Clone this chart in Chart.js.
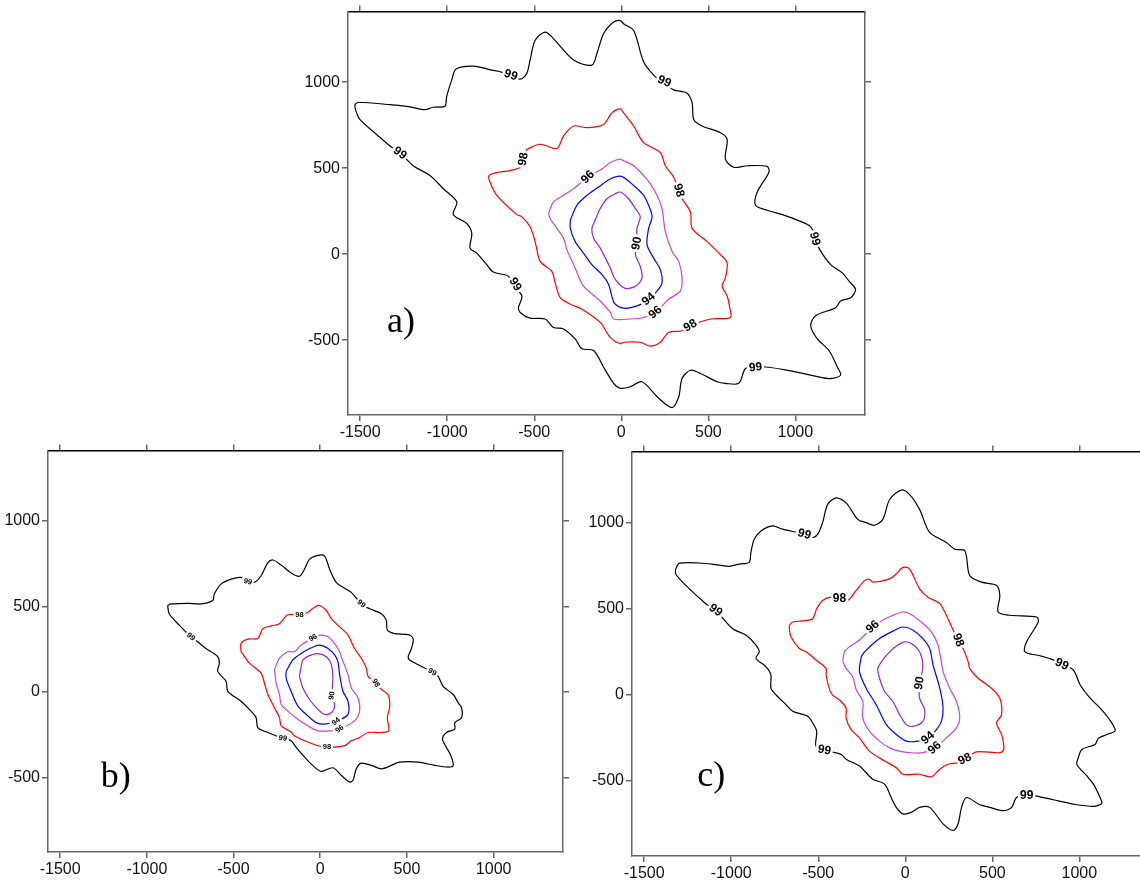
<!DOCTYPE html>
<html>
<head>
<meta charset="utf-8">
<script src="https://cdn.jsdelivr.net/npm/chart.js@4"></script>
<style>
  body { margin: 0; background: #fff; overflow: hidden; width: 1140px; height: 881px; position: relative; }
  canvas { position: absolute; }
</style>
</head>
<body>
<canvas id="chartA" width="575" height="441" style="left:300px;top:0px"></canvas>
<canvas id="chartB" width="573" height="439" style="left:0px;top:439px"></canvas>
<canvas id="chartC" width="575" height="442" style="left:584px;top:440px"></canvas>
<script>
// axis ticks
const xTicks = [-1500, -1000, -500, 0, 500, 1000];
const yTicks = [-500, 0, 500, 1000];

// contour levels and colours
const levels = ["99", "98", "96", "94", "90"];
const levelColors = ["#000000", "#ff0000", "#cc44cc", "#0000ff", "#9922cc"];

// panel a)
const a99 = [[-1531,869],[-1512,883],[-1329,869],[-1214,856],[-1128,840],[-1080,854],[-1013,860],[-1003,917],[-974,1013],[-949,1076],[-850,1093],[-744,1070],[-685,1057],[-581,1017],[-543,1051],[-524,1128],[-495,1243],[-437,1291],[-390,1253],[-274,1128],[-169,1099],[-140,1166],[-102,1281],[-44,1349],[-6,1358],[13,1339],[71,1300],[128,1119],[186,1041],[242,994],[301,955],[378,936],[407,879],[416,783],[464,745],[570,706],[608,667],[598,552],[646,505],[723,514],[838,510],[848,476],[781,361],[771,284],[838,255],[934,227],[1011,198],[1088,159],[1116,90],[1135,35],[1203,-61],[1270,-109],[1308,-157],[1346,-205],[1318,-253],[1260,-272],[1231,-311],[1116,-358],[1088,-416],[1126,-493],[1193,-560],[1241,-656],[1260,-704],[1193,-723],[1049,-694],[934,-671],[829,-656],[771,-658],[713,-665],[675,-751],[598,-751],[551,-742],[455,-694],[397,-675],[349,-723],[330,-829],[292,-892],[215,-838],[119,-742],[52,-771],[-6,-780],[-44,-751],[-102,-656],[-159,-560],[-226,-550],[-265,-493],[-332,-435],[-390,-426],[-437,-377],[-524,-372],[-581,-339],[-591,-311],[-571,-243],[-627,-174],[-648,-128],[-735,-104],[-773,-61],[-830,6],[-869,35],[-859,121],[-888,178],[-965,231],[-945,303],[-1022,380],[-1099,457],[-1195,514],[-1272,591],[-1329,629],[-1406,696],[-1502,783],[-1527,840],[-1531,869]];
const a98 = [[-543,610],[-466,639],[-370,614],[-332,687],[-274,745],[-197,735],[-102,754],[-54,821],[-6,844],[13,821],[71,745],[128,648],[224,591],[253,514],[301,447],[328,372],[349,322],[397,246],[407,150],[493,73],[570,-3],[608,-52],[598,-138],[579,-186],[608,-243],[623,-311],[627,-368],[512,-377],[397,-416],[349,-445],[272,-455],[224,-512],[167,-535],[109,-512],[13,-512],[-6,-521],[-63,-485],[-121,-397],[-226,-320],[-293,-291],[-351,-253],[-380,-167],[-399,-100],[-466,-42],[-495,73],[-524,159],[-571,217],[-600,230],[-715,342],[-754,418],[-760,457],[-706,476],[-639,486],[-581,505],[-562,552],[-543,610]];
const a96 = [[-418,236],[-390,303],[-332,342],[-274,380],[-192,447],[-111,495],[-63,533],[-6,552],[13,543],[71,514],[128,457],[167,409],[205,342],[234,265],[253,131],[292,16],[330,-42],[349,-138],[339,-215],[272,-262],[196,-339],[128,-368],[52,-377],[-44,-377],[-63,-339],[-121,-272],[-217,-186],[-265,-81],[-312,25],[-332,92],[-370,150],[-409,207],[-418,236]];
const a94 = [[-293,198],[-255,284],[-197,342],[-131,390],[-63,437],[0,452],[71,399],[128,342],[157,284],[177,217],[157,150],[148,54],[186,-23],[224,-90],[234,-167],[205,-215],[157,-262],[90,-301],[13,-314],[-40,-285],[-73,-176],[-111,-119],[-169,-61],[-217,6],[-265,73],[-293,150],[-293,198]];
const a90 = [[-150,198],[-121,265],[-82,322],[-35,351],[-6,361],[42,322],[81,265],[109,217],[90,150],[90,63],[81,-3],[109,-71],[119,-138],[81,-186],[23,-199],[-35,-147],[-63,-81],[-121,35],[-159,92],[-169,150],[-150,198]];

// panel b)
const b99 = [[-880,505],[-861,514],[-765,518],[-688,514],[-620,534],[-611,572],[-572,630],[-514,659],[-457,669],[-418,644],[-380,640],[-341,679],[-302,755],[-273,771],[-225,741],[-168,695],[-120,676],[-91,717],[-62,775],[-13,798],[25,794],[54,717],[92,640],[131,611],[179,582],[237,514],[285,486],[353,457],[381,418],[387,361],[429,341],[507,335],[536,312],[526,254],[507,206],[516,187],[584,149],[646,116],[680,91],[709,33],[767,-15],[796,-64],[815,-92],[815,-150],[776,-179],[776,-217],[728,-237],[705,-275],[728,-324],[753,-372],[767,-429],[738,-439],[661,-429],[565,-410],[458,-410],[410,-429],[353,-449],[295,-429],[237,-416],[208,-449],[189,-516],[169,-526],[121,-487],[73,-443],[6,-464],[-33,-439],[-81,-391],[-139,-324],[-168,-285],[-216,-271],[-302,-237],[-360,-208],[-370,-150],[-409,-102],[-457,-54],[-533,4],[-543,62],[-591,120],[-582,168],[-591,206],[-659,254],[-707,293],[-746,322],[-813,390],[-871,457],[-880,505]];
const b98 = [[-457,235],[-457,283],[-418,309],[-360,312],[-331,370],[-283,386],[-235,399],[-187,451],[-120,451],[-71,466],[-33,495],[-4,505],[35,476],[64,428],[112,380],[160,332],[198,254],[237,197],[266,139],[276,91],[320,52],[353,14],[391,-15],[401,-83],[387,-150],[395,-227],[353,-237],[276,-237],[227,-266],[179,-285],[140,-314],[39,-324],[-13,-314],[-91,-285],[-149,-256],[-168,-234],[-225,-198],[-235,-150],[-264,-92],[-302,-15],[-322,52],[-341,110],[-409,168],[-447,222],[-457,235]];
const b96 = [[-264,131],[-235,197],[-187,235],[-149,235],[-110,274],[-42,316],[-4,332],[45,322],[83,283],[112,235],[121,206],[160,101],[179,23],[218,-35],[227,-112],[198,-169],[112,-217],[64,-227],[-13,-227],[-71,-198],[-129,-160],[-187,-112],[-225,-73],[-235,-15],[-254,52],[-264,131]];
const b94 = [[-197,120],[-158,187],[-110,225],[-52,258],[-4,274],[45,254],[83,216],[102,177],[112,101],[131,4],[160,-54],[160,-131],[92,-173],[25,-188],[-23,-179],[-71,-140],[-129,-83],[-168,4],[-197,81],[-197,120]];
const b90 = [[-120,91],[-110,149],[-100,187],[-62,212],[-13,224],[35,206],[64,160],[73,81],[68,-21],[83,-83],[64,-121],[25,-131],[-13,-102],[-62,-44],[-100,23],[-120,91]];

// panel c)
const c99 = [[-1319,729],[-1300,762],[-1185,764],[-1070,752],[-1012,745],[-954,758],[-897,768],[-887,825],[-868,902],[-829,950],[-763,979],[-705,960],[-580,931],[-532,912],[-503,931],[-475,998],[-446,1104],[-397,1142],[-340,1113],[-273,1017],[-225,998],[-177,983],[-129,1017],[-90,1132],[-23,1187],[25,1161],[82,1075],[140,941],[236,883],[284,844],[342,835],[370,691],[438,653],[524,634],[543,576],[533,480],[601,461],[755,451],[764,422],[697,307],[687,249],[774,226],[850,202],[899,176],[965,144],[1004,58],[1062,-20],[1119,-77],[1167,-135],[1206,-207],[1158,-230],[1109,-253],[1090,-288],[1014,-317],[994,-365],[985,-403],[1043,-471],[1081,-518],[1119,-596],[1129,-630],[1081,-647],[965,-634],[850,-609],[745,-586],[697,-586],[639,-596],[611,-653],[562,-672],[486,-653],[428,-638],[351,-596],[323,-653],[303,-749],[274,-787],[217,-749],[140,-653],[82,-653],[35,-682],[-14,-691],[-52,-653],[-81,-596],[-119,-518],[-187,-490],[-234,-442],[-263,-413],[-340,-374],[-369,-346],[-465,-321],[-513,-298],[-509,-211],[-532,-164],[-561,-125],[-647,-96],[-685,-58],[-743,0],[-772,38],[-772,115],[-801,163],[-858,211],[-839,249],[-858,288],[-916,346],[-993,384],[-1089,490],[-1146,528],[-1261,634],[-1319,700],[-1319,729]];
const c98 = [[-666,403],[-647,422],[-590,428],[-532,441],[-509,499],[-475,547],[-426,566],[-378,556],[-331,547],[-282,605],[-234,662],[-206,670],[-187,653],[-90,672],[-52,700],[-14,739],[25,729],[82,614],[130,566],[198,528],[245,441],[284,355],[303,317],[332,268],[361,192],[370,153],[418,96],[495,38],[543,-20],[553,-115],[524,-164],[553,-230],[566,-317],[543,-336],[409,-331],[342,-374],[303,-394],[245,-403],[198,-432],[150,-476],[82,-461],[-14,-461],[-52,-423],[-119,-384],[-206,-327],[-263,-250],[-311,-202],[-340,-135],[-340,-77],[-369,-39],[-426,9],[-455,115],[-455,153],[-513,202],[-570,249],[-609,268],[-657,336],[-666,384],[-666,403]];
const c96 = [[-359,192],[-350,249],[-321,278],[-263,317],[-215,365],[-187,393],[-148,422],[-71,461],[-14,480],[25,470],[92,422],[150,365],[188,288],[207,192],[217,134],[255,38],[294,-39],[313,-135],[294,-192],[236,-250],[169,-308],[101,-336],[25,-336],[-33,-327],[-90,-308],[-148,-269],[-206,-211],[-244,-135],[-244,-39],[-282,29],[-302,105],[-340,153],[-359,192]];
const c94 = [[-253,221],[-234,249],[-148,326],[-71,369],[-14,393],[44,374],[101,326],[140,268],[159,175],[198,38],[217,-77],[207,-154],[179,-202],[130,-250],[73,-269],[6,-269],[-52,-230],[-109,-173],[-167,-58],[-225,38],[-263,134],[-253,221]];
const c90 = [[-129,203],[-90,249],[-43,288],[-4,307],[35,297],[82,249],[101,163],[82,67],[82,-20],[111,-86],[101,-154],[44,-183],[6,-173],[-33,-115],[-71,-39],[-119,19],[-148,96],[-158,153],[-129,203]];

// contour labels: x, y, text, angle (deg)
const labelsA = [[-635,1041,"99",20],[247,1003,"99",25],[1111,89,"99",75],[771,-659,"99",-5],[-610,-176,"99",60],[-1272,587,"99",35],
  [-562,552,"98",-80],[330,371,"98",75],[397,-416,"98",-30],[-192,447,"96",-45],[196,-339,"96",-40],[157,-262,"94",-40],[90,63,"90",-80]];
const labelsB = [[-418,644,"99",15],[237,514,"99",40],[646,116,"99",30],[-216,-271,"99",10],[-746,322,"99",40],
  [-120,451,"98",0],[320,52,"98",60],[39,-324,"98",0],[-42,316,"96",-30],[112,-217,"96",-40],[92,-173,"94",-40],[68,-21,"90",-80]];
const labelsC = [[-580,931,"99",15],[899,176,"99",25],[697,-586,"99",0],[-465,-321,"99",10],[-1089,490,"99",35],
  [-378,556,"98",0],[303,317,"98",70],[342,-374,"98",-25],[-187,393,"96",-40],[169,-308,"96",-40],[130,-250,"94",-40],[82,67,"90",-80]];

const contourLabels = {
  id: "contourLabels",
  afterDatasetsDraw(chart, args, opts) {
    const ctx = chart.ctx;
    const sx = chart.scales.x, sy = chart.scales.y;
    ctx.save();
    ctx.font = "bold " + opts.size + "px 'Liberation Sans', Arial, sans-serif";
    ctx.textAlign = "center";
    ctx.textBaseline = "middle";
    opts.items.forEach(([x, y, txt, ang]) => {
      const px = sx.getPixelForValue(x), py = sy.getPixelForValue(y);
      const w = ctx.measureText(txt).width;
      ctx.save();
      ctx.translate(px, py);
      ctx.rotate(ang * Math.PI / 180);
      ctx.fillStyle = "#fff";
      ctx.fillRect(-w / 2 - 2, -opts.size / 2, w + 4, opts.size);
      ctx.fillStyle = "#000";
      ctx.fillText(txt, 0, 0);
      ctx.restore();
    });
    // panel letter
    ctx.font = "36px 'Liberation Serif', 'Times New Roman', serif";
    ctx.textAlign = "left";
    ctx.textBaseline = "alphabetic";
    ctx.fillStyle = "#000";
    ctx.fillText(opts.letter[0], sx.getPixelForValue(opts.letter[1]), sy.getPixelForValue(opts.letter[2]));
    ctx.restore();
  }
};

function fixTicks(values) {
  return (axis) => { axis.ticks = values.map((v) => ({ value: v })); };
}

function axis(pos, values, min, max, size, showLabels, borderColor) {
  const horizontal = pos === "top" || pos === "bottom";
  return {
    type: "linear",
    position: pos,
    min: min,
    max: max,
    afterBuildTicks: fixTicks(values),
    afterFit: (s) => { if (horizontal) s.height = size; else s.width = size; },
    ticks: {
      display: showLabels,
      font: { family: "'Liberation Sans', Arial, sans-serif", size: 16 },
      color: "#111",
      padding: 2,
      maxRotation: 0,
      callback: (v) => String(v),
    },
    grid: { drawOnChartArea: false, drawTicks: true, tickLength: 6, color: "#666", lineWidth: 1.5 },
    border: { display: true, color: borderColor, width: 1.5 },
  };
}

function makeChart(id, sets, labels, letter, labelSize) {
  const datasets = sets.map((pts, i) => ({
    label: levels[i],
    data: pts.map(([x, y]) => ({ x: x, y: y })),
    showLine: true,
    borderColor: levelColors[i],
    borderWidth: 1.2,
    pointRadius: 0,
    tension: 0.3,
    fill: false,
  }));
  return new Chart(document.getElementById(id), {
    type: "scatter",
    data: { datasets: datasets },
    options: {
      responsive: false,
      animation: false,
      layout: { padding: 0 },
      scales: {
        x: axis("bottom", xTicks, -1570, 1400, 26, true, "#666"),
        x2: axis("top", xTicks, -1570, 1400, 8, false, "#000"),
        y: axis("left", yTicks, -935, 1410, 48, true, "#666"),
        y2: axis("right", yTicks, -935, 1410, 10, false, "#666"),
      },
      plugins: {
        legend: { display: false },
        tooltip: { enabled: false },
        contourLabels: { items: labels, size: labelSize, letter: letter },
      },
    },
    plugins: [contourLabels],
  });
}

makeChart("chartA", [a99, a98, a96, a94, a90], labelsA, ["a)", -1346, -455], 12);
makeChart("chartB", [b99, b98, b96, b94, b90], labelsB, ["b)", -1266, -555], 7.5);
makeChart("chartC", [c99, c98, c96, c94, c90], labelsC, ["c)", -1195, -528], 12);
</script>
</body>
</html>
